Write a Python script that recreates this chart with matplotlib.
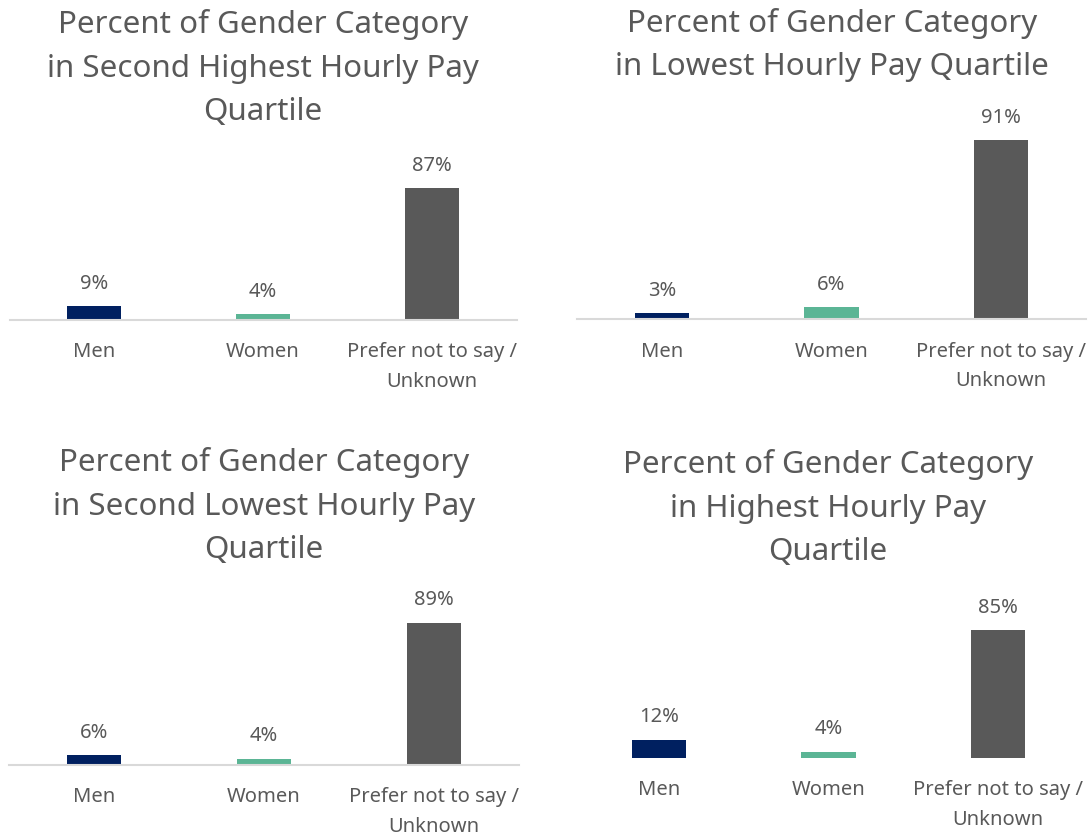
import matplotlib
matplotlib.use('Agg')
import matplotlib.pyplot as plt

plt.rcParams['font.family'] = ['Noto Sans', 'DejaVu Sans']

categories = ['Men', 'Women', 'Prefer not to say /\nUnknown']
bar_colors = ['#002060', '#5BB595', '#595959']
text_color = '#595959'

second_highest = [9, 4, 87]
lowest = [3, 6, 91]
second_lowest = [6, 4, 89]
highest = [12, 4, 85]

titles = [
    'Percent of Gender Category\nin Second Highest Hourly Pay\nQuartile',
    'Percent of Gender Category\nin Lowest Hourly Pay Quartile',
    'Percent of Gender Category\nin Second Lowest Hourly Pay\nQuartile',
    'Percent of Gender Category\nin Highest Hourly Pay\nQuartile',
]

W, H = 1088, 835
fig = plt.figure(figsize=(W / 100, H / 100), dpi=100)

# layout in pixels: left, right, baseline y, px per percent, title x, title mid y, axis line
panels = [
    (second_highest, titles[0], 9.5, 516.5, 320, 1.517, 263, 68, True),
    (lowest, titles[1], 577, 1086, 319.3, 1.97, 832, 45, True),
    (second_lowest, titles[2], 9, 519, 765, 1.6, 264, 506, True),
    (highest, titles[3], 574, 1083, 757.7, 1.5, 828, 508, False),
]

for vals, title, left, right, base, scale, tx, ty, axline in panels:
    ax = fig.add_axes([left / W, 1 - base / H, (right - left) / W, 100 * scale / H])
    x = range(len(categories))
    bars = ax.bar(x, vals, width=0.32, color=bar_colors)
    ax.set_xlim(-0.5, 2.5)
    ax.set_ylim(0, 100)
    for b, v in zip(bars, vals):
        ax.annotate(f'{v}%', (b.get_x() + b.get_width() / 2, v),
                    xytext=(0, 16), textcoords='offset points',
                    ha='center', va='center', fontsize=14.5, color=text_color)
    ax.set_xticks(list(x))
    ax.set_xticklabels(categories, fontsize=14.5, color=text_color, linespacing=1.66)
    ax.tick_params(axis='x', length=0, pad=16)
    ax.set_yticks([])
    for s in ['top', 'left', 'right']:
        ax.spines[s].set_visible(False)
    if axline:
        ax.spines['bottom'].set_color('#D9D9D9')
        ax.spines['bottom'].set_linewidth(1.5)
    else:
        ax.spines['bottom'].set_visible(False)
    ax.patch.set_alpha(0)
    fig.text(tx / W, 1 - ty / H, title, ha='center', va='center',
             fontsize=22.5, color=text_color, linespacing=1.59)

fig.savefig('out.png', dpi=100)
